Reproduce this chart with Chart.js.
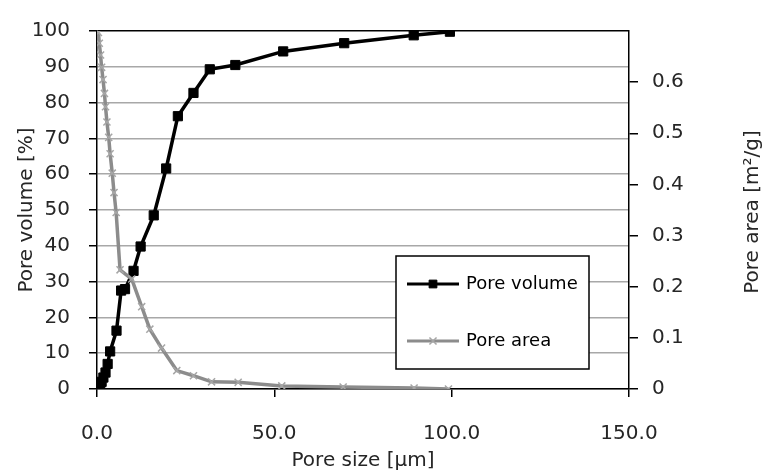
<!DOCTYPE html>
<html>
<head>
<meta charset="utf-8">
<script src="https://cdn.jsdelivr.net/npm/chart.js@4/dist/chart.umd.min.js"></script>
<style>
  html, body { margin: 0; padding: 0; background: #fff; }
</style>
</head>
<body>
<canvas id="chart" width="768" height="473"></canvas>
<script>
// pore size [um] / pore volume [%]
const volumeSize = [0.3, 0.6, 0.9, 1.3, 1.8, 2.4, 3.0, 3.7, 5.5, 6.8, 7.9, 10.3, 12.3, 16.0, 19.5, 22.8, 27.2, 31.8, 39.0, 52.5, 69.7, 89.3, 99.5];
const volumePct = [0, 0.4, 1.1, 2.0, 3.2, 4.6, 7.0, 10.5, 16.3, 27.5, 27.9, 33.0, 39.8, 48.5, 61.6, 76.2, 82.7, 89.3, 90.5, 94.3, 96.6, 98.8, 99.8];

// pore size [um] / pore area [m2/g]
const areaSize = [0.4, 0.65, 1.0, 1.3, 1.7, 2.1, 2.4, 2.8, 3.3, 3.7, 4.3, 4.8, 5.4, 6.5, 9.8, 12.6, 14.9, 18.2, 22.5, 27.2, 32.3, 39.8, 52.1, 69.4, 89.4, 99.1];
const areaVal = [0.697, 0.676, 0.653, 0.629, 0.605, 0.578, 0.552, 0.522, 0.492, 0.460, 0.422, 0.384, 0.345, 0.233, 0.215, 0.161, 0.117, 0.080, 0.036, 0.026, 0.014, 0.013, 0.006, 0.004, 0.002, 0];

const xTicks = [0, 50, 100, 150];
const leftTicks = [0, 10, 20, 30, 40, 50, 60, 70, 80, 90, 100];
const rightTicks = [0, 0.1, 0.2, 0.3, 0.4, 0.5, 0.6];

const FONT = 'DejaVu Sans';
const txt = '#262626';
const rightTitle = 'Pore area [m²/g]';

const toPts = (xs, ys) => xs.map((x, i) => ({ x: x, y: ys[i] }));

// legend box inside the plot + right axis title reading bottom to top
const boxLegend = {
    id: 'boxLegend',
    afterDraw(chart) {
        const ctx = chart.ctx;
        const a = chart.chartArea;
        const bx = a.left + 299, by = a.top + 225, bw = 193, bh = 113;
        ctx.save();
        ctx.fillStyle = '#fff';
        ctx.fillRect(bx, by, bw, bh);
        ctx.strokeStyle = '#000';
        ctx.lineWidth = 1.5;
        ctx.strokeRect(bx, by, bw, bh);
        chart.data.datasets.forEach((ds, i) => {
            const y = by + 28 + i * 57;
            ctx.strokeStyle = ds.borderColor;
            ctx.lineWidth = 3;
            ctx.beginPath();
            ctx.moveTo(bx + 11, y);
            ctx.lineTo(bx + 63, y);
            ctx.stroke();
            ctx.fillStyle = ds.pointBackgroundColor;
            ctx.strokeStyle = ds.pointBorderColor;
            ctx.lineWidth = ds.pointBorderWidth;
            Chart.helpers.drawPoint(ctx, {
                pointStyle: ds.pointStyle,
                radius: ds.pointStyle === 'rect' ? 5.5 : 5,
                borderWidth: ds.pointBorderWidth
            }, bx + 37, y);
            ctx.fillStyle = '#000';
            ctx.font = '18px "' + FONT + '"';
            ctx.textBaseline = 'middle';
            ctx.textAlign = 'left';
            ctx.fillText(ds.label, bx + 70, y);
        });

        const r = chart.scales.y2;
        ctx.translate(r.right - 15, (a.top + a.bottom) / 2 + 2);
        ctx.rotate(-Math.PI / 2);
        ctx.fillStyle = txt;
        ctx.font = '20px "' + FONT + '"';
        ctx.textAlign = 'center';
        ctx.textBaseline = 'middle';
        ctx.fillText(rightTitle, 0, 0);
        ctx.restore();
    }
};

new Chart(document.getElementById('chart'), {
    type: 'scatter',
    data: {
        datasets: [{
            label: 'Pore volume',
            data: toPts(volumeSize, volumePct),
            yAxisID: 'y',
            showLine: true,
            borderColor: '#000',
            borderWidth: 3.5,
            pointStyle: 'rect',
            pointRadius: 6.5,
            pointBackgroundColor: '#000',
            pointBorderColor: '#000',
            pointBorderWidth: 1,
            order: 2
        }, {
            label: 'Pore area',
            data: toPts(areaSize, areaVal),
            yAxisID: 'y2',
            showLine: true,
            borderColor: '#8c8c8c',
            borderWidth: 3.5,
            pointStyle: 'crossRot',
            pointRadius: 5,
            pointBackgroundColor: '#a6a6a6',
            pointBorderColor: '#a6a6a6',
            pointBorderWidth: 1.5,
            order: 1
        }]
    },
    options: {
        responsive: false,
        animation: false,
        layout: { padding: { top: 19, left: 0, right: 0, bottom: 0 } },
        plugins: { legend: { display: false }, tooltip: { enabled: false } },
        scales: {
            x: {
                type: 'linear',
                min: 0, max: 150,
                afterBuildTicks: axis => { axis.ticks = xTicks.map(v => ({ value: v })); },
                afterFit: s => { s.height = 84; },
                border: { color: '#000', width: 1.5 },
                grid: { drawOnChartArea: false, color: '#000', tickColor: '#000', tickLength: 8, lineWidth: 1.5 },
                ticks: { color: txt, padding: 25, font: { family: FONT, size: 20 }, callback: v => v.toFixed(1) },
                title: { display: true, text: 'Pore size [µm]', color: txt, font: { family: FONT, size: 20 }, padding: { top: 0, bottom: 0 } }
            },
            y: {
                position: 'left',
                min: 0, max: 100,
                afterBuildTicks: axis => { axis.ticks = leftTicks.map(v => ({ value: v })); },
                afterFit: s => { s.width = 97; },
                border: { color: '#000', width: 1.5 },
                grid: {
                    color: c => (c.tick && c.tick.value === 100) ? '#000' : '#a8a8a8',
                    lineWidth: 1.5,
                    tickColor: '#000',
                    tickLength: 8
                },
                ticks: { color: txt, padding: 19, font: { family: FONT, size: 20 } },
                title: { display: true, text: 'Pore volume [%]', color: txt, font: { family: FONT, size: 20 }, padding: { top: 15, bottom: 15 } }
            },
            y2: {
                position: 'right',
                min: 0, max: 0.7,
                afterBuildTicks: axis => { axis.ticks = rightTicks.map(v => ({ value: v })); },
                afterFit: s => { s.width = 139; },
                border: { color: '#000', width: 1.5 },
                grid: { drawOnChartArea: false, color: '#000', tickColor: '#000', tickLength: 9, lineWidth: 1.5 },
                ticks: { color: txt, padding: 14, font: { family: FONT, size: 20 }, callback: v => String(Number(v.toFixed(1))) },
                title: { display: false }
            }
        }
    },
    plugins: [boxLegend]
});
</script>
</body>
</html>
